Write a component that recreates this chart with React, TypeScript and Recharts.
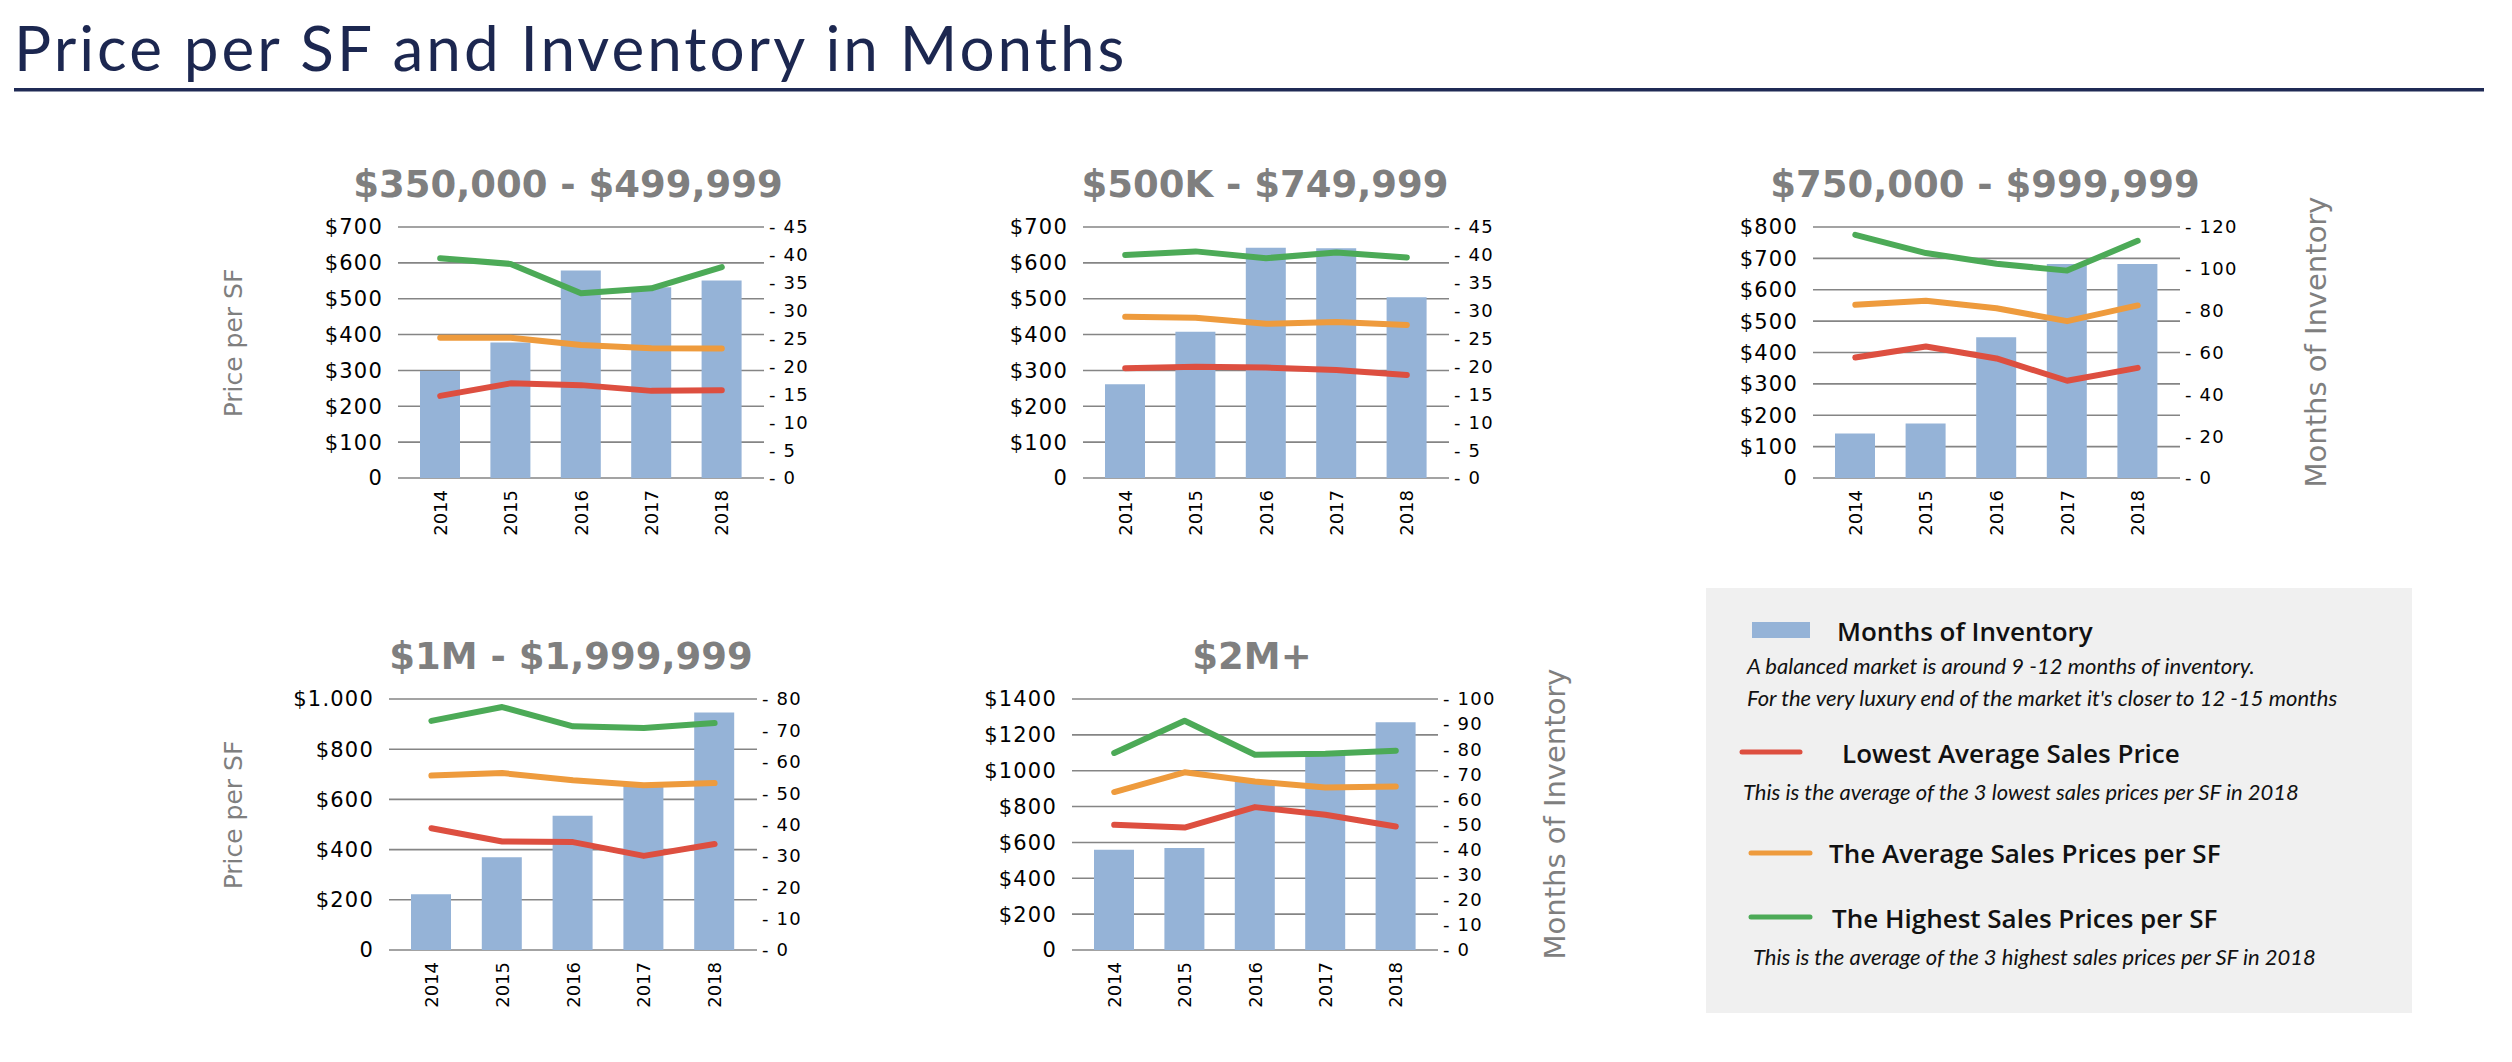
import React from 'react';
import {
  ComposedChart,
  Bar,
  Line,
  XAxis,
  YAxis,
  CartesianGrid,
} from 'recharts';

// categories
const years = ['2014', '2015', '2016', '2017', '2018'];

// $350,000 - $499,999
const inv350 = [19.2, 24.3, 37.2, 34.2, 35.4];
const low350 = [229, 264, 259, 243, 245];
const avg350 = [391, 391, 371, 362, 361];
const high350 = [613, 597, 515, 529, 588];

// $500K - $749,999
const inv500 = [16.8, 26.2, 41.3, 41.2, 32.4];
const low500 = [306, 310, 308, 301, 287];
const avg500 = [450, 447, 430, 435, 427];
const high500 = [622, 632, 613, 629, 615];

// $750,000 - $999,999
const inv750 = [21.3, 26.0, 67.3, 102.3, 102.3];
const low750 = [384, 419, 381, 310, 351];
const avg750 = [552, 565, 541, 500, 550];
const high750 = [775, 717, 683, 661, 756];

// $1M - $1,999,999
const inv1m = [17.8, 29.6, 42.8, 52.7, 75.7];
const low1m = [485, 432, 430, 375, 422];
const avg1m = [695, 705, 676, 656, 665];
const high1m = [913, 968, 891, 884, 904];

// $2M+
const inv2m = [39.9, 40.6, 67.5, 78.3, 90.7];
const low2m = [698, 683, 797, 754, 689];
const avg2m = [881, 991, 940, 907, 912];
const high2m = [1099, 1279, 1089, 1095, 1112];

// axis ticks
const priceTicks700 = [0, 100, 200, 300, 400, 500, 600, 700];
const priceTicks800 = [0, 100, 200, 300, 400, 500, 600, 700, 800];
const priceTicks1000 = [0, 200, 400, 600, 800, 1000];
const priceTicks1400 = [0, 200, 400, 600, 800, 1000, 1200, 1400];
const monthTicks45 = [0, 5, 10, 15, 20, 25, 30, 35, 40, 45];
const monthTicks120 = [0, 20, 40, 60, 80, 100, 120];
const monthTicks80 = [0, 10, 20, 30, 40, 50, 60, 70, 80];
const monthTicks100 = [0, 10, 20, 30, 40, 50, 60, 70, 80, 90, 100];
const price1000Labels = ['0', '$200', '$400', '$600', '$800', '$1.000'];

const BAR = '#95b3d7';
const RED = '#dd4f40';
const ORANGE = '#ee9b3d';
const GREEN = '#4caa57';
const TICK_FONT = '"DejaVu Sans", sans-serif';

const dollar = (v: number) => (v === 0 ? '0' : '$' + v);

function buildRows(inv: number[], low: number[], avg: number[], high: number[]) {
  return years.map((y, i) => ({ year: y, inv: inv[i], low: low[i], avg: avg[i], high: high[i] }));
}

function YearTick({ x, y, payload }: any) {
  const ty = y + 10;
  return (
    <text
      x={x}
      y={ty}
      transform={`rotate(-90, ${x}, ${ty})`}
      textAnchor="end"
      dominantBaseline="central"
      fontFamily={TICK_FONT}
      fontSize={18}
      fill="#000"
    >
      {payload.value}
    </text>
  );
}

const LW = 130; // left axis width
const RW = 90; // right axis width
const PH = 251; // plot height
const TOP = 24; // room above the plot for the top tick labels

function RangeChart({ plotLeft, plotTop, plotWidth, rows, priceTicks, priceFmt, monthTicks }: any) {
  const width = LW + plotWidth + RW;
  const height = TOP + PH + 70;
  return (
    <div style={{ position: 'absolute', left: plotLeft - LW, top: plotTop - TOP }}>
      <ComposedChart width={width} height={height} data={rows} margin={{ top: TOP, right: 0, bottom: 0, left: 0 }}>
        <CartesianGrid vertical={false} stroke="#858585" strokeWidth={1.6} yAxisId="left" />
        <XAxis
          dataKey="year"
          height={70}
          padding={{ left: 7, right: 7 }}
          axisLine={false}
          tickLine={false}
          tickSize={0}
          interval={0}
          tick={<YearTick />}
        />
        <YAxis
          yAxisId="left"
          orientation="left"
          width={LW}
          domain={[priceTicks[0], priceTicks[priceTicks.length - 1]]}
          ticks={priceTicks}
          interval={0}
          axisLine={false}
          tickLine={false}
          tickSize={6}
          tickMargin={9}
          tickFormatter={priceFmt}
          tick={{ fontFamily: TICK_FONT, fontSize: 21, fill: '#000', letterSpacing: 1.2 }}
        />
        <YAxis
          yAxisId="right"
          orientation="right"
          width={RW}
          domain={[monthTicks[0], monthTicks[monthTicks.length - 1]]}
          ticks={monthTicks}
          interval={0}
          axisLine={false}
          tickLine={false}
          tickSize={4}
          tickMargin={1}
          tickFormatter={(v: number) => '- ' + v}
          tick={{ fontFamily: TICK_FONT, fontSize: 18, fill: '#000', letterSpacing: 1.2, textAnchor: 'start' }}
        />
        <Bar yAxisId="right" dataKey="inv" fill={BAR} barSize={40} isAnimationActive={false} />
        <Line yAxisId="left" type="linear" dataKey="high" stroke={GREEN} strokeWidth={6} strokeLinecap="round" strokeLinejoin="round" dot={false} isAnimationActive={false} />
        <Line yAxisId="left" type="linear" dataKey="avg" stroke={ORANGE} strokeWidth={6} strokeLinecap="round" strokeLinejoin="round" dot={false} isAnimationActive={false} />
        <Line yAxisId="left" type="linear" dataKey="low" stroke={RED} strokeWidth={6} strokeLinecap="round" strokeLinejoin="round" dot={false} isAnimationActive={false} />
      </ComposedChart>
    </div>
  );
}

const chartTitle = {
  fontFamily: '"DejaVu Sans", sans-serif',
  fontWeight: 700,
  fontSize: 37,
  fill: '#7f7f7f',
  textAnchor: 'middle' as const,
};

const sideLabel = {
  fontFamily: '"DejaVu Sans", sans-serif',
  fill: '#7f7f7f',
  textAnchor: 'middle' as const,
  dominantBaseline: 'central' as const,
};

const legendHead = { fontFamily: '"Open Sans", sans-serif', fontWeight: 600, fontSize: 26, fill: '#111' };
const legendNote = { fontFamily: 'Lato, sans-serif', fontStyle: 'italic', fontSize: 22, fill: '#111' };

export default function App() {
  return (
    <div style={{ position: 'absolute', left: 0, top: 0, width: 2512, height: 1062, background: '#fff', overflow: 'hidden' }}>
      <svg width={2512} height={1062} style={{ position: 'absolute', left: 0, top: 0 }}>
        <text x={14} y={71} fontFamily="Lato, sans-serif" fontSize={62} letterSpacing={3} fill="#1c2750">
          Price per SF and Inventory in Months
        </text>
        <rect x={14} y={88} width={2470} height={3.5} fill="#1f2a55" />

        <text x={568} y={197} {...chartTitle}>$350,000 - $499,999</text>
        <text x={1265} y={197} {...chartTitle}>$500K - $749,999</text>
        <text x={1985} y={197} {...chartTitle}>$750,000 - $999,999</text>
        <text x={571} y={669} {...chartTitle}>$1M - $1,999,999</text>
        <text x={1252} y={669} {...chartTitle}>$2M+</text>

        <text transform="translate(233,343) rotate(-90)" fontSize={25} {...sideLabel}>Price per SF</text>
        <text transform="translate(233,815) rotate(-90)" fontSize={25} {...sideLabel}>Price per SF</text>
        <text transform="translate(2316,342) rotate(-90)" fontSize={29} {...sideLabel}>Months of Inventory</text>
        <text transform="translate(1555,814) rotate(-90)" fontSize={29} {...sideLabel}>Months of Inventory</text>

        {/* legend panel */}
        <rect x={1706} y={588} width={706} height={425} fill="#f0f0f0" />
        <rect x={1752} y={622} width={58} height={16} fill={BAR} />
        <text x={1837} y={641} {...legendHead}>Months of Inventory</text>
        <text x={1747} y={674} {...legendNote}>A balanced market is around 9 -12 months of inventory.</text>
        <text x={1747} y={706} {...legendNote}>For the very luxury end of the market it's closer to 12 -15 months</text>

        <line x1={1742} x2={1800} y1={752} y2={752} stroke={RED} strokeWidth={5} strokeLinecap="round" />
        <text x={1842} y={763} {...legendHead}>Lowest Average Sales Price</text>
        <text x={1743} y={800} {...legendNote}>This is the average of the 3 lowest  sales prices per SF in 2018</text>

        <line x1={1751} x2={1810} y1={853} y2={853} stroke={ORANGE} strokeWidth={5} strokeLinecap="round" />
        <text x={1829} y={863} {...legendHead}>The Average Sales Prices per SF</text>

        <line x1={1751} x2={1810} y1={917} y2={917} stroke={GREEN} strokeWidth={5} strokeLinecap="round" />
        <text x={1832} y={928} {...legendHead}>The Highest Sales Prices per SF</text>
        <text x={1753} y={965} {...legendNote}>This is the average of the 3 highest  sales prices per SF in 2018</text>
      </svg>

      <RangeChart plotLeft={398} plotTop={227} plotWidth={366} rows={buildRows(inv350, low350, avg350, high350)} priceTicks={priceTicks700} priceFmt={dollar} monthTicks={monthTicks45} />
      <RangeChart plotLeft={1083} plotTop={227} plotWidth={366} rows={buildRows(inv500, low500, avg500, high500)} priceTicks={priceTicks700} priceFmt={dollar} monthTicks={monthTicks45} />
      <RangeChart plotLeft={1813} plotTop={227} plotWidth={367} rows={buildRows(inv750, low750, avg750, high750)} priceTicks={priceTicks800} priceFmt={dollar} monthTicks={monthTicks120} />
      <RangeChart plotLeft={389} plotTop={699} plotWidth={368} rows={buildRows(inv1m, low1m, avg1m, high1m)} priceTicks={priceTicks1000} priceFmt={(v: number) => price1000Labels[priceTicks1000.indexOf(v)]} monthTicks={monthTicks80} />
      <RangeChart plotLeft={1072} plotTop={699} plotWidth={366} rows={buildRows(inv2m, low2m, avg2m, high2m)} priceTicks={priceTicks1400} priceFmt={dollar} monthTicks={monthTicks100} />
    </div>
  );
}
